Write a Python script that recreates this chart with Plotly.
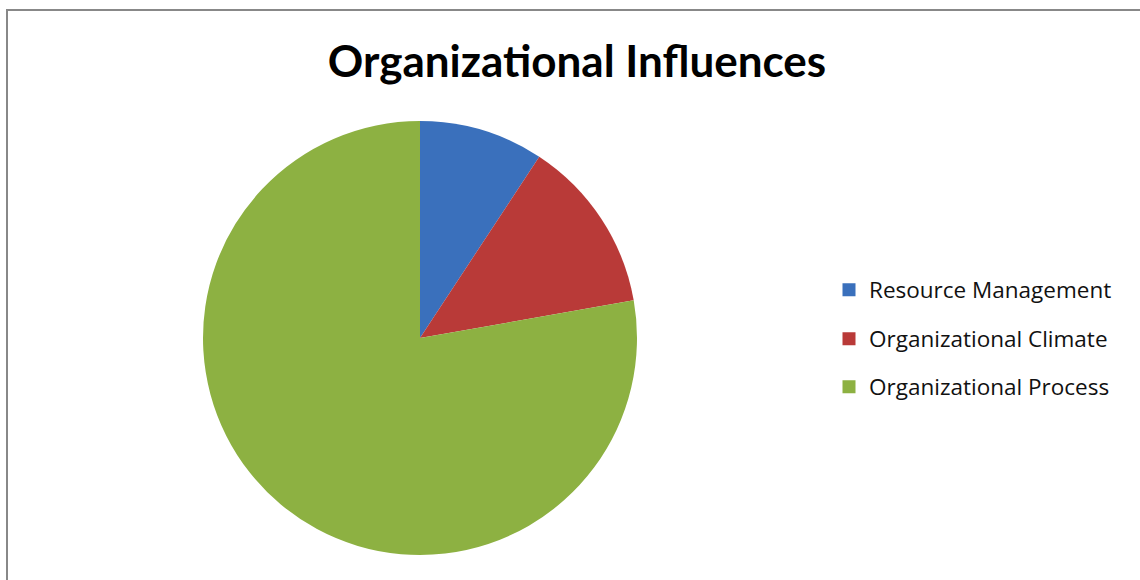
import plotly.graph_objects as go

# data
categories = ["Resource Management", "Organizational Climate", "Organizational Process"]
counts = [5, 7, 42]
colors = ["#3A70BC", "#B93A38", "#8DB142"]

W, H = 1140, 580

fig = go.Figure()

# pie itself, legend drawn by dummy traces so the spacing can match
fig.add_trace(go.Pie(
    labels=categories,
    values=counts,
    sort=False,
    direction="clockwise",
    rotation=0,
    marker=dict(colors=colors, line=dict(width=0)),
    textinfo="none",
    hoverinfo="label+value+percent",
    showlegend=False,
    domain=dict(x=[(420 - 217) / W, (420 + 217) / W],
                y=[1 - 555 / H, 1 - 121 / H]),
))

legend_ys = [290, 339, 387]
legend_names = ["legend", "legend2", "legend3"]
for name, col, lg in zip(categories, colors, legend_names):
    fig.add_trace(go.Scatter(
        x=[None], y=[None], mode="markers", name=name,
        marker=dict(symbol="square", size=13, color=col),
        legend=lg, showlegend=True, hoverinfo="skip",
    ))

legend_style = dict(
    font=dict(family="Open Sans, Noto Sans, sans-serif", size=22.5, color="#111111"),
    bgcolor="rgba(0,0,0,0)",
    xanchor="left", yanchor="middle",
)
layout_legends = {}
for lg, ly in zip(legend_names, legend_ys):
    layout_legends[lg] = dict(legend_style, x=829 / W, y=1 - ly / H)

fig.update_layout(
    width=W, height=H,
    margin=dict(l=0, r=0, t=0, b=0),
    paper_bgcolor="white",
    plot_bgcolor="white",
    xaxis=dict(visible=False),
    yaxis=dict(visible=False),
    title=dict(
        text="<b>Organizational Influences</b>",
        x=577 / W, xanchor="center",
        y=1 - 62 / H, yanchor="middle",
        font=dict(family="Lato, Noto Sans, sans-serif", size=44, color="black"),
    ),
    shapes=[dict(
        type="rect", xref="paper", yref="paper",
        x0=7 / W, x1=1.02, y0=-0.02, y1=1 - 10 / H,
        line=dict(color="#888888", width=2),
    )],
    **layout_legends,
)

# drop the default 8px body margin so the figure sits at the page corner
fig.write_html("out.html", config={"displayModeBar": False},
               post_script="document.body.style.margin='0';")
